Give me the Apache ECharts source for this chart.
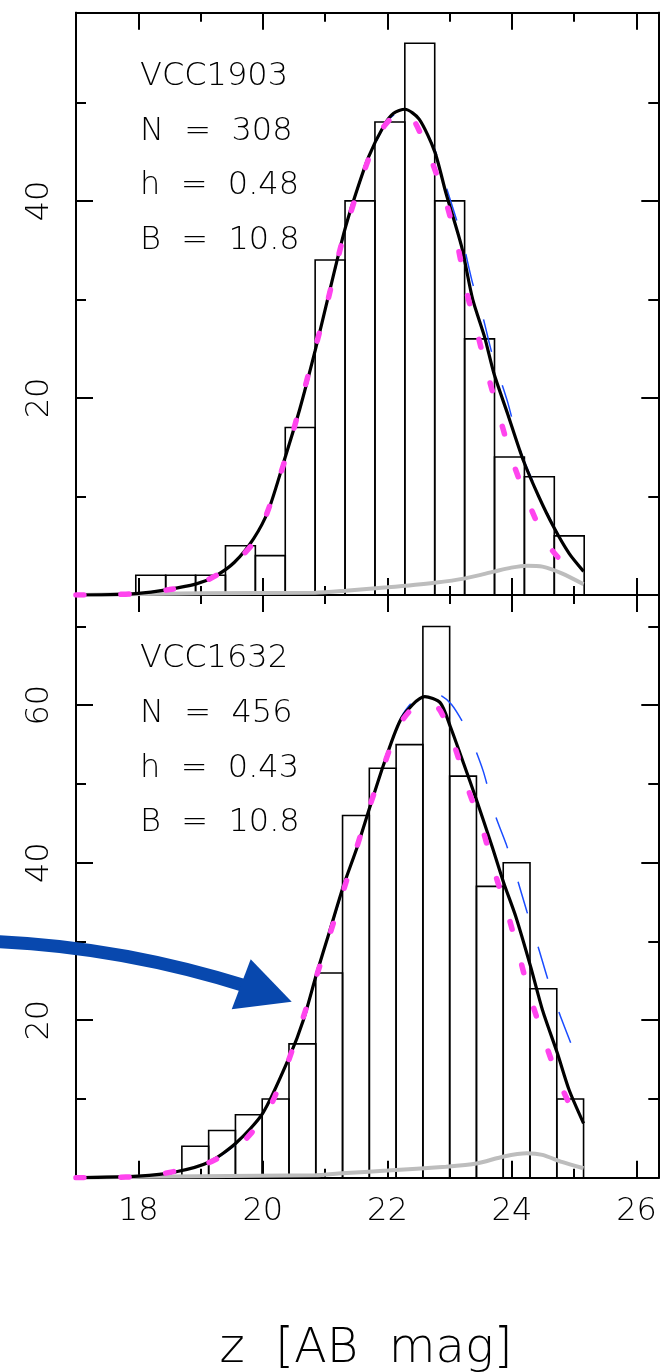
<!DOCTYPE html>
<html><head><meta charset="utf-8">
<script src="https://cdn.jsdelivr.net/npm/echarts@6/dist/echarts.min.js"></script>
<style>html,body{margin:0;padding:0;background:#fff}#c{width:665px;height:1372px}</style>
</head><body><div id="c"></div>
<script>
// ---------- data ----------
const xMin = 17, xMax = 26.35;
const xMajorTicks = [18, 20, 22, 24, 26];
const xMinorTicks = [19, 21, 23, 25];
const yMaxTop = 59.1, yMaxBot = 74;
const yMajorTop = [20, 40], yMinorTop = [10, 30, 50];
const yMajorBot = [20, 40, 60], yMinorBot = [10, 30, 50, 70];

const galaxyNames = ['VCC1903', 'VCC1632'];
const galaxyN = ['308', '456'];
const galaxyH = ['0.48', '0.43'];
const galaxyB = ['10.8', '10.8'];
const xTitle = 'z  [AB  mag]';

const topBinStart = 17.96, topBinWidth = 0.48;
const topCounts = [2, 2, 2, 5, 4, 17, 34, 40, 48, 56, 40, 26, 14, 12, 6];
const botBinStart = 18.70, botBinWidth = 0.43;
const botCounts = [4, 6, 8, 10, 17, 26, 46, 52, 55, 70, 51, 37, 40, 24, 10];

const topBlack = [[17.0,0],[17.55,0.03],[18.0,0.17],[18.42,0.5],[18.92,1.1],[19.23,1.9],[19.54,3.3],[19.85,5.7],[20.09,8.6],[20.36,14.0],[20.59,18.8],[20.84,24.8],[21.04,30.0],[21.30,36.7],[21.46,40.1],[21.70,44.5],[21.95,47.7],[22.10,48.9],[22.28,49.3],[22.51,48.3],[22.76,45.0],[22.94,40.8],[23.19,35.4],[23.37,30.0],[23.56,26.2],[23.71,22.5],[23.93,18.4],[24.18,13.7],[24.43,10.0],[24.67,6.9],[24.92,4.2],[25.15,2.4]];
const topBlue = [[17.0,0],[17.55,0.03],[18.0,0.17],[18.42,0.5],[18.92,1.1],[19.23,1.9],[19.54,3.3],[19.85,5.7],[20.09,8.5],[20.36,14.0],[20.59,18.8],[20.84,24.9],[21.04,29.9],[21.30,36.5],[21.46,40.0],[21.70,44.4],[21.95,47.6],[22.10,48.7],[22.28,49.1],[22.51,48.2],[22.76,45.2],[22.94,41.5],[23.19,36.4],[23.37,31.6],[23.53,28.3],[23.68,24.5],[23.93,19.6],[24.15,14.4],[24.43,10.2],[24.67,7.0],[24.92,4.2],[25.10,2.6]];
const topMagenta = [[17.0,0],[17.6,0.05],[18.0,0.15],[18.5,0.55],[19.0,1.2],[19.5,3.0],[19.9,5.8],[20.36,13.8],[20.84,25.0],[21.04,29.8],[21.30,36.5],[21.70,44.3],[21.95,47.6],[22.25,49.2],[22.45,47.9],[22.72,43.9],[22.94,39.9],[23.13,35.4],[23.28,30.6],[23.44,26.7],[23.62,22.2],[23.81,17.9],[24.02,13.4],[24.27,9.3],[24.58,5.1],[25.02,1.9],[25.15,1.2]];
const topGrey = [[17.0,0],[18.98,0.17],[20.84,0.24],[21.33,0.44],[22.0,0.78],[22.76,1.25],[23.25,1.69],[23.71,2.37],[23.99,2.78],[24.24,2.98],[24.49,2.88],[24.80,2.2],[25.15,1.1]];

const botBlack = [[17.0,0],[18.0,0.2],[18.61,0.76],[19.14,2.0],[19.57,4.4],[20.0,8.2],[20.43,15.4],[20.65,20.0],[20.86,25.8],[21.08,31.5],[21.30,37.2],[21.52,42.1],[21.72,47.1],[21.95,52.7],[22.23,58.4],[22.60,61.1],[22.85,60.3],[23.01,57.3],[23.22,52.7],[23.43,48.0],[23.68,42.1],[23.87,37.4],[24.06,33.2],[24.30,26.8],[24.49,21.3],[24.73,15.8],[24.92,11.1],[25.15,6.9]];
const botBlue = [[17.0,0],[18.0,0.2],[18.61,0.7],[19.14,1.9],[19.57,4.3],[20.0,8.2],[20.43,15.3],[20.65,20.0],[20.86,25.6],[21.08,31.3],[21.30,37.0],[21.52,42.0],[21.72,47.0],[21.95,52.6],[22.23,58.6],[22.50,61.2],[22.69,61.6],[22.87,61.2],[23.03,60.1],[23.20,58.0],[23.34,55.8],[23.54,51.6],[23.73,46.1],[23.91,42.3],[24.09,37.8],[24.24,33.8],[24.41,29.6],[24.58,25.1],[24.77,20.7],[24.98,16.4]];
const botMagenta = [[17.0,0],[17.6,0.05],[18.0,0.15],[18.42,0.55],[19.1,1.8],[19.66,4.4],[20.09,8.6],[20.4,14.6],[20.65,20.4],[20.87,25.8],[21.08,31.0],[21.30,36.6],[21.70,46.8],[21.95,52.5],[22.20,57.6],[22.45,60.0],[22.65,60.6],[22.85,59.3],[23.07,55.0],[23.28,49.7],[23.53,44.2],[23.71,39.1],[23.93,33.6],[24.12,28.1],[24.30,22.8],[24.52,17.5],[24.77,12.0],[25.08,6.7]];
const botGrey = [[17.0,0],[18.98,0.2],[20.84,0.3],[21.27,0.55],[22.0,0.9],[22.94,1.4],[23.43,1.8],[23.87,2.7],[24.24,3.1],[24.49,2.9],[24.80,2.0],[25.15,1.2]];

// ---------- styling / layout ----------
const FONT = 'DejaVu Sans';
const GRID_L = 76, GRID_R = 6.7;
const grids = [
  {left: GRID_L, right: GRID_R, top: 12.7, height: 582.3},
  {left: GRID_L, right: GRID_R, top: 595, height: 582.7}
];
const axisLineStyle = {color: '#000', width: 2};

function xAxisDef(gi, position, ticks, len, labels) {
  return {
    type: 'value', gridIndex: gi, position: position, min: xMin, max: xMax,
    splitLine: {show: false},
    axisLine: {show: true, onZero: false, lineStyle: axisLineStyle},
    axisTick: {show: true, inside: true, length: len, customValues: ticks, lineStyle: {color: '#000', width: 2}},
    axisLabel: labels ? {show: true, customValues: ticks, margin: 18, color: '#000', fontFamily: FONT, fontWeight: 200, fontSize: 32,
                         formatter: v => String(v)} : {show: false}
  };
}
function yAxisDef(gi, position, max, ticks, len, labels) {
  return {
    type: 'value', gridIndex: gi, position: position, min: 0, max: max,
    splitLine: {show: false},
    axisLine: {show: true, onZero: false, lineStyle: axisLineStyle},
    axisTick: {show: true, inside: true, length: len, customValues: ticks, lineStyle: {color: '#000', width: 2}},
    axisLabel: labels ? {show: true, customValues: ticks, rotate: 90, margin: 20, color: '#000', fontFamily: FONT, fontWeight: 200, fontSize: 32,
                         formatter: v => String(v)} : {show: false}
  };
}

const xAxes = [], yAxes = [];
[0, 1].forEach(gi => {
  xAxes.push(xAxisDef(gi, 'bottom', xMajorTicks, 17, gi === 1));
  xAxes.push(xAxisDef(gi, 'bottom', xMinorTicks, 9, false));
  xAxes.push(xAxisDef(gi, 'top', xMajorTicks, 17, false));
  xAxes.push(xAxisDef(gi, 'top', xMinorTicks, 9, false));
  const ymax = gi === 0 ? yMaxTop : yMaxBot;
  const maj = gi === 0 ? yMajorTop : yMajorBot;
  const min = gi === 0 ? yMinorTop : yMinorBot;
  yAxes.push(yAxisDef(gi, 'left', ymax, maj, 17, true));
  yAxes.push(yAxisDef(gi, 'left', ymax, min, 10, false));
  yAxes.push(yAxisDef(gi, 'right', ymax, maj, 17, false));
  yAxes.push(yAxisDef(gi, 'right', ymax, min, 10, false));
});

function histData(start, width, counts) {
  return counts.map((c, i) => [start + i * width, start + (i + 1) * width, c]);
}
function histSeries(gi, data) {
  return {
    type: 'custom', xAxisIndex: gi * 4, yAxisIndex: gi * 4, z: 2,
    renderItem: function (params, api) {
      const p0 = api.coord([api.value(0), 0]);
      const p1 = api.coord([api.value(1), api.value(2)]);
      return {type: 'rect', shape: {x: p0[0], y: p1[1], width: p1[0] - p0[0], height: p0[1] - p1[1]},
              style: {fill: 'none', stroke: '#000', lineWidth: 1.6}};
    },
    data: data, silent: true
  };
}
function lineSeries(gi, data, style, z) {
  return {type: 'line', xAxisIndex: gi * 4, yAxisIndex: gi * 4, data: data, smooth: 0.25,
          showSymbol: false, symbol: 'none', lineStyle: style, z: z, silent: true, animation: false};
}
const greyStyle = {color: '#bdbdbd', width: 4};
const blueStyle = {color: '#1a4cff', width: 1.5, type: [33, 35]};
const blackStyle = {color: '#000', width: 3.2};
const magentaStyle = {color: '#ff44ee', width: 5.5, type: [8, 37], cap: 'round'};

const series = [
  histSeries(0, histData(topBinStart, topBinWidth, topCounts)),
  lineSeries(0, topGrey, greyStyle, 3),
  lineSeries(0, topBlue, blueStyle, 4),
  lineSeries(0, topBlack, blackStyle, 5),
  lineSeries(0, topMagenta, magentaStyle, 6),
  histSeries(1, histData(botBinStart, botBinWidth, botCounts)),
  lineSeries(1, botGrey, greyStyle, 3),
  lineSeries(1, botBlue, blueStyle, 4),
  lineSeries(1, botBlack, blackStyle, 5),
  lineSeries(1, botMagenta, magentaStyle, 6)
];

// text blocks
const graphics = [];
const textTops = [74.5, 657];
[0, 1].forEach(gi => {
  const lines = [galaxyNames[gi], 'N  =  ' + galaxyN[gi], 'h  =  ' + galaxyH[gi], 'B  =  ' + galaxyB[gi]];
  lines.forEach((t, k) => {
    graphics.push({type: 'text', x: 140, y: textTops[gi] + 2 + k * 54.7, z: 50,
      style: {text: t, fill: '#000', font: '200 32px "' + FONT + '"', verticalAlign: 'middle', align: 'left'}});
  });
});
// x-axis title
graphics.push({type: 'text', x: 366, y: 1350, z: 50,
  style: {text: xTitle, fill: '#000', font: '200 48px "' + FONT + '"', verticalAlign: 'middle', align: 'center'}});
// annotation arrow
const arrowColor = '#0848ae';
graphics.push({type: 'bezierCurve', z: 60,
  shape: {x1: -2, y1: 941.6, cpx1: 124, cpy1: 947.3, x2: 249, y2: 987},
  style: {stroke: arrowColor, lineWidth: 13, fill: null}});
graphics.push({type: 'polygon', z: 60,
  shape: {points: [[250.7, 959.3], [291.7, 1001.7], [231.7, 1009.3]]},
  style: {fill: arrowColor}});

const chart = echarts.init(document.getElementById('c'), null, {renderer: 'canvas'});
chart.setOption({
  animation: false,
  backgroundColor: '#fff',
  grid: grids,
  xAxis: xAxes,
  yAxis: yAxes,
  series: series,
  graphic: graphics
});
</script></body></html>
